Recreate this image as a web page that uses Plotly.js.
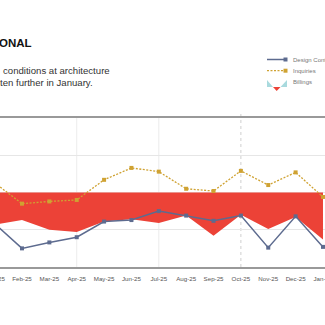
<!DOCTYPE html>
<html><head><meta charset="utf-8">
<script src="https://cdn.plot.ly/plotly-3.0.1.min.js"></script>
<style>html,body{margin:0;padding:0;background:#fff;overflow:hidden}#chart{width:325px;height:325px}</style>
</head><body><div id="chart"></div>
<script>
const months = ['Jan-25','Feb-25','Mar-25','Apr-25','May-25','Jun-25','Jul-25','Aug-25','Sep-25','Oct-25','Nov-25','Dec-25','Jan-26'];
const billings = [45.7,46.3,45.0,44.7,46.1,46.4,45.9,46.9,44.2,47.0,45.1,46.7,43.7];
const designContracts = [45.8,42.5,43.3,44.0,46.1,46.3,47.5,46.9,46.2,46.9,42.6,46.8,42.7];
const inquiries = [51.3,48.5,48.8,49.0,51.7,53.3,52.8,50.5,50.2,52.9,51.0,52.7,49.4];
const neutral = 50;
const quarterMonths = ['Apr-25','Jul-25'];
const yearMarkMonths = ['Oct-25'];
const seriesNames = ['Design Contracts','Inquiries','Billings'];
const titleText = 'ONAL';
const subtitleLines = ['conditions at architecture','ten further in January.'];

const W = 325, PT = 118, PB = 267;
const px = v => v / W;
const py = v => (PB - v) / (PB - PT);

const RED = '#ec4237', SLATE = '#5d6b8f', GOLD = '#cfa232', TEAL = '#a9dade';
const FONT = 'Liberation Sans, Arial, sans-serif';

const traces = [
  {x: months, y: months.map(() => neutral), mode: 'lines', line: {width: 0}, hoverinfo: 'skip', showlegend: false},
  {x: months, y: billings, name: seriesNames[2], mode: 'lines', fill: 'tonexty', fillcolor: RED, line: {width: 0, color: RED}},
  {x: months, y: designContracts, name: seriesNames[0], mode: 'lines+markers', line: {color: SLATE, width: 1.5}, marker: {symbol: 'square', size: 4, color: SLATE}},
  {x: months, y: inquiries, name: seriesNames[1], mode: 'lines+markers', line: {color: GOLD, width: 1.3, dash: '2px,1.5px'}, marker: {symbol: 'square', size: 4, color: GOLD}}
];

const shapes = quarterMonths.map(m => ({type: 'line', xref: 'x', yref: 'paper', x0: m, x1: m, y0: 0, y1: 1, layer: 'below', line: {color: '#ececec', width: 1}}));
yearMarkMonths.forEach(m => shapes.push({type: 'line', xref: 'x', yref: 'paper', x0: m, x1: m, y0: 0, y1: 1.04, layer: 'below', line: {color: '#cfcfcf', width: 1, dash: 'dot'}}));
// legend icons
shapes.push({type: 'line', xref: 'paper', yref: 'paper', x0: px(267), x1: px(285), y0: py(59.5), y1: py(59.5), line: {color: SLATE, width: 1.5}});
shapes.push({type: 'rect', xref: 'paper', yref: 'paper', x0: px(283.5), x1: px(287.5), y0: py(57.5), y1: py(61.5), fillcolor: SLATE, line: {width: 0}});
shapes.push({type: 'line', xref: 'paper', yref: 'paper', x0: px(267), x1: px(285), y0: py(70.7), y1: py(70.7), line: {color: GOLD, width: 1.3, dash: '2px,1.5px'}});
shapes.push({type: 'rect', xref: 'paper', yref: 'paper', x0: px(283.5), x1: px(287.5), y0: py(68.7), y1: py(72.7), fillcolor: GOLD, line: {width: 0}});
const tri = pts => 'M' + pts.map(p => px(p[0]) + ',' + py(p[1])).join(' L') + ' Z';
shapes.push({type: 'path', xref: 'paper', yref: 'paper', path: tri([[267,80],[267,87],[273,87]]), fillcolor: TEAL, line: {width: 0}});
shapes.push({type: 'path', xref: 'paper', yref: 'paper', path: tri([[287,80],[287,87],[280.5,87]]), fillcolor: TEAL, line: {width: 0}});
shapes.push({type: 'path', xref: 'paper', yref: 'paper', path: tri([[273,87],[280.5,87],[276.7,91]]), fillcolor: RED, line: {width: 0}});

const ann = (text, x, y, size, color, extra) => Object.assign({text, xref: 'paper', yref: 'paper', x: px(x), y: py(y), xanchor: 'left', yanchor: 'middle', showarrow: false, borderpad: 0, borderwidth: 0, font: {family: FONT, size, color}}, extra || {});
const annotations = [
  ann('<b>' + titleText + '</b>', -1, 43, 11.5, '#111'),
  ann(subtitleLines[0], 3, 71, 9.6, '#333'),
  ann(subtitleLines[1], 0, 82.5, 9.6, '#333'),
  ann(seriesNames[0], 292.5, 59.5, 6, '#777'),
  ann(seriesNames[1], 292.5, 70.7, 6, '#777'),
  ann(seriesNames[2], 292.5, 82, 6, '#777'),
  ann(months[0], -5, 278, 6.2, '#555', {xanchor: 'center'})
];

const layout = {
  width: W, height: 325,
  margin: {l: 0, r: 0, t: PT, b: 325 - PB, autoexpand: false},
  paper_bgcolor: '#fff', plot_bgcolor: '#fff',
  showlegend: false,
  xaxis: {type: 'category', range: [0.196, 12.074], showgrid: false, zeroline: false, showline: true, mirror: true, linecolor: '#999', linewidth: 2, ticks: '', ticklabelstandoff: 5, tickfont: {family: FONT, size: 6.2, color: '#555'}, fixedrange: true},
  yaxis: {range: [40, 60], tick0: 40, dtick: 5, showgrid: true, gridcolor: '#e6e6e6', gridwidth: 1, zeroline: false, showline: false, showticklabels: false, ticks: '', fixedrange: true},
  shapes, annotations
};

Plotly.newPlot('chart', traces, layout, {staticPlot: true, displayModeBar: false});
</script></body></html>
